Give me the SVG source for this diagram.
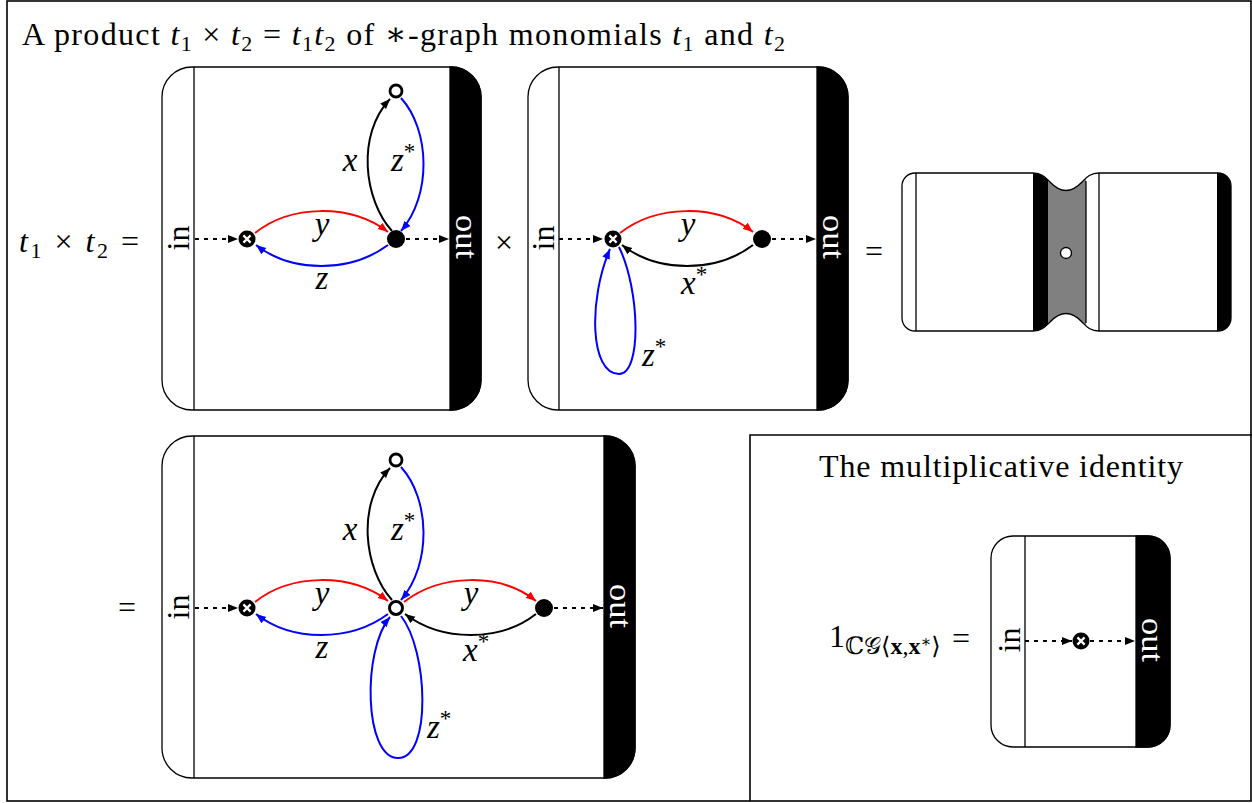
<svg xmlns="http://www.w3.org/2000/svg" xmlns:xlink="http://www.w3.org/1999/xlink" width="1252" height="803" viewBox="0 0 1252 803">
<style>
  text { font-family: "Liberation Serif", "DejaVu Serif", serif; fill: #000; }
  .t { font-size: 32px; }
  .m { font-size: 33px; font-style: italic; }
  .sup { font-size: 23px; font-style: normal; }
  .sub { font-size: 22px; font-style: normal; }
  .io { font-size: 32px; }
  .frame { fill: #fff; stroke: #000; stroke-width: 1.3; }
  .band { fill: #000; stroke: #000; stroke-width: 1.3; }
  .inner { stroke: #000; stroke-width: 1.3; fill: none; }
  .dot { fill: none; stroke: #000; stroke-width: 1.9; stroke-dasharray: 4 5; marker-end: url(#arrK); }
  .ek { fill: none; stroke: #000; stroke-width: 2; marker-end: url(#arrK); }
  .er { fill: none; stroke: #f00; stroke-width: 2; marker-end: url(#arrR); }
  .eb { fill: none; stroke: #00f; stroke-width: 2; marker-end: url(#arrB); }
</style>
<defs>
  <marker id="arrK" markerUnits="userSpaceOnUse" markerWidth="11" markerHeight="9" refX="10" refY="4.5" orient="auto"><path d="M0,0.5 L10,4.5 L0,8.5 Z" fill="#000"/></marker>
  <marker id="arrR" markerUnits="userSpaceOnUse" markerWidth="11" markerHeight="9" refX="10" refY="4.5" orient="auto"><path d="M0,0.5 L10,4.5 L0,8.5 Z" fill="#f00"/></marker>
  <marker id="arrB" markerUnits="userSpaceOnUse" markerWidth="11" markerHeight="9" refX="10" refY="4.5" orient="auto"><path d="M0,0.5 L10,4.5 L0,8.5 Z" fill="#00f"/></marker>
  <g id="xnode">
    <circle r="8.5" fill="#000"/>
    <path d="M-3.6,-3.6 L3.6,3.6 M-3.6,3.6 L3.6,-3.6" stroke="#fff" stroke-width="2.2"/>
  </g>
  <clipPath id="glyphClip">
    <path d="M915,173 H1033 C1042,173 1046,178 1050,182 Q1066,199 1082,182 C1086,178 1090,173 1099,173 H1218 A13,13 0 0 1 1231,186 V318 A13,13 0 0 1 1218,331 H1099 C1090,331 1086,326 1082,322 Q1066,305 1050,322 C1046,326 1042,331 1033,331 H915 A13,13 0 0 1 902,318 V186 A13,13 0 0 1 915,173 Z"/>
  </clipPath>
</defs>

<rect x="0" y="0" width="1252" height="803" fill="#fff"/>

<g id="outer-frame">
  <rect x="7" y="1" width="1244" height="800" fill="none" stroke="#000" stroke-width="1.6"/>
</g>

<g id="title">
  <text class="t" x="22" y="45" textLength="763" lengthAdjust="spacing">A product <tspan font-style="italic">t</tspan><tspan class="sub" dy="6">1</tspan><tspan dy="-6"> × </tspan><tspan font-style="italic">t</tspan><tspan class="sub" dy="6">2</tspan><tspan dy="-6"> = </tspan><tspan font-style="italic">t</tspan><tspan class="sub" dy="6">1</tspan><tspan font-style="italic" dy="-6">t</tspan><tspan class="sub" dy="6">2</tspan><tspan dy="-6"> of ∗-graph monomials </tspan><tspan font-style="italic">t</tspan><tspan class="sub" dy="6">1</tspan><tspan dy="-6"> and </tspan><tspan font-style="italic">t</tspan><tspan class="sub" dy="6">2</tspan></text>
</g>

<g id="equation-left">
  <text class="t" x="19" y="252" textLength="120" lengthAdjust="spacing"><tspan font-style="italic">t</tspan><tspan class="sub" dy="6">1</tspan><tspan dy="-6"> × </tspan><tspan font-style="italic">t</tspan><tspan class="sub" dy="6">2</tspan><tspan dy="-6"> =</tspan></text>
  <text class="t" x="504" y="253" text-anchor="middle">×</text>
  <text class="t" x="874" y="262" text-anchor="middle">=</text>
  <text class="t" x="127" y="618" text-anchor="middle">=</text>
</g>

<!-- Box 1 -->
<g id="box-t1">
  <rect class="frame" x="162" y="67" width="319" height="343" rx="30" ry="30"/>
  <path class="band" d="M450,67 H451 A30,30 0 0 1 481,97 V380 A30,30 0 0 1 451,410 H450 Z"/>
  <line class="inner" x1="194" y1="67" x2="194" y2="410"/>
  <text class="io" transform="translate(189,238) rotate(-90)" text-anchor="middle">in</text>
  <text class="io" transform="translate(456,237) rotate(90)" text-anchor="middle" style="fill:#fff" textLength="44" lengthAdjust="spacingAndGlyphs">out</text>
</g>

<!-- Box 2 -->
<g id="box-t2">
  <rect class="frame" x="528" y="67" width="320" height="343" rx="30" ry="30"/>
  <path class="band" d="M817,67 H818 A30,30 0 0 1 848,97 V380 A30,30 0 0 1 818,410 H817 Z"/>
  <line class="inner" x1="559" y1="67" x2="559" y2="410"/>
  <text class="io" transform="translate(554,238) rotate(-90)" text-anchor="middle">in</text>
  <text class="io" transform="translate(823,237) rotate(90)" text-anchor="middle" style="fill:#fff" textLength="44" lengthAdjust="spacingAndGlyphs">out</text>
</g>

<!-- Glued glyph -->
<g id="glued-glyph">
  <path d="M915,173 H1033 C1042,173 1046,178 1050,182 Q1066,199 1082,182 C1086,178 1090,173 1099,173 H1218 A13,13 0 0 1 1231,186 V318 A13,13 0 0 1 1218,331 H1099 C1090,331 1086,326 1082,322 Q1066,305 1050,322 C1046,326 1042,331 1033,331 H915 A13,13 0 0 1 902,318 V186 A13,13 0 0 1 915,173 Z" fill="#fff"/>
  <g clip-path="url(#glyphClip)">
    <rect x="1033" y="170" width="15" height="165" fill="#000"/>
    <rect x="1048" y="170" width="38" height="165" fill="#808080"/>
    <rect x="1217" y="170" width="16" height="165" fill="#000"/>
  </g>
  <path d="M915,173 H1033 C1042,173 1046,178 1050,182 Q1066,199 1082,182 C1086,178 1090,173 1099,173 H1218 A13,13 0 0 1 1231,186 V318 A13,13 0 0 1 1218,331 H1099 C1090,331 1086,326 1082,322 Q1066,305 1050,322 C1046,326 1042,331 1033,331 H915 A13,13 0 0 1 902,318 V186 A13,13 0 0 1 915,173 Z" fill="none" stroke="#000" stroke-width="1.3"/>
  <line class="inner" x1="916" y1="173" x2="916" y2="331"/>
  <line class="inner" x1="1086" y1="181" x2="1086" y2="323"/>
  <line class="inner" x1="1099" y1="173" x2="1099" y2="331"/>
  <circle cx="1066" cy="253" r="5.5" fill="#fff" stroke="#000" stroke-width="1.3"/>
</g>

<!-- Box product -->
<g id="box-t1t2">
  <rect class="frame" x="162" y="436" width="473" height="342" rx="30" ry="30"/>
  <path class="band" d="M604,436 H605 A30,30 0 0 1 635,466 V748 A30,30 0 0 1 605,778 H604 Z"/>
  <line class="inner" x1="194" y1="436" x2="194" y2="778"/>
  <text class="io" transform="translate(189,607) rotate(-90)" text-anchor="middle">in</text>
  <text class="io" transform="translate(610,606) rotate(90)" text-anchor="middle" style="fill:#fff" textLength="44" lengthAdjust="spacingAndGlyphs">out</text>
</g>

<!-- Identity panel -->
<g id="identity-panel">
  <path d="M750,801 V435 H1252" fill="none" stroke="#000" stroke-width="1.6"/>
  <text class="t" x="1001" y="477" text-anchor="middle" textLength="364" lengthAdjust="spacing">The multiplicative identity</text>
  <text class="t" x="829" y="647">1<tspan font-size="24" dy="7">ℂ𝒢⟨<tspan font-weight="bold">x</tspan>,<tspan font-weight="bold">x</tspan><tspan font-size="16" dy="-7">∗</tspan><tspan dy="7">⟩</tspan></tspan></text>
  <text class="t" x="961" y="649" text-anchor="middle">=</text>
</g>
<g id="box-identity">
  <rect class="frame" x="991" y="536" width="179" height="211" rx="22" ry="22"/>
  <path class="band" d="M1136,536 H1148 A22,22 0 0 1 1170,558 V725 A22,22 0 0 1 1148,747 H1136 Z"/>
  <line class="inner" x1="1025" y1="536" x2="1025" y2="747"/>
  <text class="io" transform="translate(1020,640) rotate(-90)" text-anchor="middle">in</text>
  <text class="io" transform="translate(1142,640) rotate(90)" text-anchor="middle" style="fill:#fff" textLength="44" lengthAdjust="spacingAndGlyphs">out</text>
</g>

<!-- Connectors -->
<g id="connectors">
  <!-- box 1 -->
  <path class="dot" d="M195,239 H238"/>
  <path class="dot" d="M406,239 H449"/>
  <path class="er" d="M255,233 C290,205 350,203 388,232"/>
  <path class="eb" d="M388,245 C350,273 292,273 256,245"/>
  <path class="ek" d="M392,231 C364,200 356,135 390,99"/>
  <path class="eb" d="M401,98 C430,130 432,195 401,231"/>
  <!-- box 2 -->
  <path class="dot" d="M559,239 H603"/>
  <path class="dot" d="M772,239 H816"/>
  <path class="er" d="M620,233 C656,205 716,203 753,232"/>
  <path class="ek" d="M753,245 C716,273 658,273 622,245"/>
  <path class="eb" d="M619,247 C640,290 642,374 619,374 C590,374 588,300 610,249"/>
  <!-- product box -->
  <path class="dot" d="M195,608 H238"/>
  <path class="dot" d="M554,608 H603"/>
  <path class="er" d="M255,602 C290,574 350,572 388,601"/>
  <path class="eb" d="M388,614 C350,642 292,642 256,614"/>
  <path class="er" d="M404,602 C440,574 500,572 536,601"/>
  <path class="ek" d="M536,614 C500,642 442,642 405,614"/>
  <path class="ek" d="M392,600 C364,569 356,504 390,468"/>
  <path class="eb" d="M401,467 C430,499 432,564 401,600"/>
  <path class="eb" d="M401,616 C428,650 432,758 398,758 C364,758 362,650 390,617"/>
  <!-- identity -->
  <path class="dot" d="M1025,641 H1072"/>
  <path class="dot" d="M1090,641 H1135"/>

  <g id="edge-labels">
    <text class="m" x="322" y="235" text-anchor="middle">y</text>
    <text class="m" x="322" y="289" text-anchor="middle">z</text>
    <text class="m" x="350" y="171" text-anchor="middle">x</text>
    <text class="m" x="391" y="171">z<tspan class="sup" dy="-12">*</tspan></text>

    <text class="m" x="688" y="235" text-anchor="middle">y</text>
    <text class="m" x="681" y="294">x<tspan class="sup" dy="-12">*</tspan></text>
    <text class="m" x="642" y="366">z<tspan class="sup" dy="-12">*</tspan></text>

    <text class="m" x="322" y="604" text-anchor="middle">y</text>
    <text class="m" x="471" y="604" text-anchor="middle">y</text>
    <text class="m" x="322" y="658" text-anchor="middle">z</text>
    <text class="m" x="463" y="661">x<tspan class="sup" dy="-12">*</tspan></text>
    <text class="m" x="350" y="540" text-anchor="middle">x</text>
    <text class="m" x="391" y="540">z<tspan class="sup" dy="-12">*</tspan></text>
    <text class="m" x="427" y="738">z<tspan class="sup" dy="-12">*</tspan></text>
  </g>
</g>

<!-- Nodes -->
<g id="node-b1-start"><use xlink:href="#xnode" x="247" y="239"/></g>
<g id="node-b1-end"><circle cx="396" cy="239" r="9" fill="#000"/></g>
<g id="node-b1-top"><circle cx="396" cy="91" r="6" fill="#fff" stroke="#000" stroke-width="2.8"/></g>

<g id="node-b2-start"><use xlink:href="#xnode" x="613" y="239"/></g>
<g id="node-b2-end"><circle cx="762" cy="239" r="9" fill="#000"/></g>

<g id="node-b3-start"><use xlink:href="#xnode" x="247" y="608"/></g>
<g id="node-b3-mid"><circle cx="396" cy="608" r="6.5" fill="#fff" stroke="#000" stroke-width="3"/></g>
<g id="node-b3-end"><circle cx="544" cy="608" r="9" fill="#000"/></g>
<g id="node-b3-top"><circle cx="396" cy="460" r="6" fill="#fff" stroke="#000" stroke-width="2.8"/></g>

<g id="node-id-start"><use xlink:href="#xnode" x="1081" y="641"/></g>
</svg>
